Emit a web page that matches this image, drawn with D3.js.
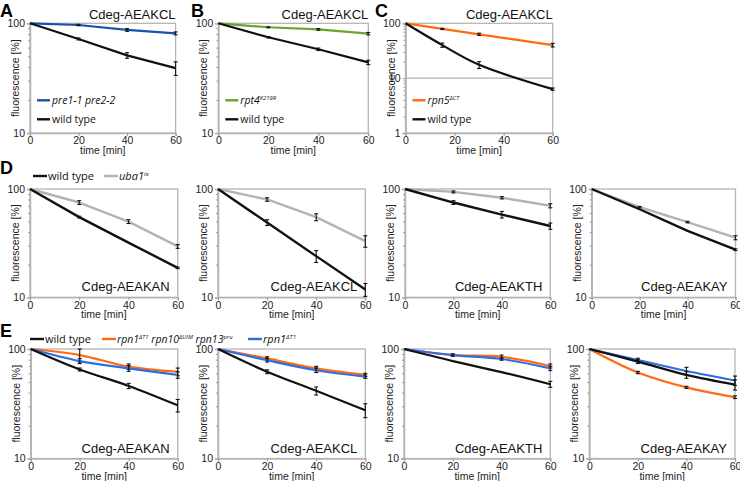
<!DOCTYPE html>
<html><head><meta charset="utf-8">
<script src="https://cdn.jsdelivr.net/npm/d3@7"></script>
<style>body{margin:0;background:#fff}svg{display:block}</style>
</head><body>
<script>
// ---------- DATA ----------
const times = [0, 20, 40, 60];
const timesC = [0, 15, 30, 60];
const xTicks = [0, 20, 40, 60];

const A_pre = [100, 96.5, 87, 81],     A_preErr = [0, 1.5, 2.5, 2.5];
const A_wt  = [100, 72, 51, 39],       A_wtErr  = [0, 1.5, 3, 5.5];
const B_rpt4 = [100, 92, 88, 80.5],    B_rpt4Err = [0, 1, 1.5, 2];
const B_wt   = [100, 74.6, 58, 44],    B_wtErr   = [0, 1, 1.5, 2];
const C_rpn5 = [100, 79, 63, 40],      C_rpn5Err = [0, 2, 3, 3];
const C_wt   = [100, 40, 17.5, 6.3],   C_wtErr   = [0, 3.5, 2.5, 0.3];

const D_titles = ["Cdeg-AEAKAN", "Cdeg-AEAKCL", "Cdeg-AEAKTH", "Cdeg-AEAKAY"];
const D_uba1   = [[100, 75, 50, 29.5], [100, 80, 55, 33], [100, 94, 83, 70], [100, 68, 49.5, 35.5]];
const D_uba1Err= [[0, 3, 2, 1.2], [0, 3, 4, 4], [0, 2, 2, 3], [0, 1, 0.8, 1.5]];
const D_wt     = [[100, 55, 32, 18.7], [100, 49, 24, 11.8], [100, 75, 58, 45.5], [100, 65, 41, 27.5]];
const D_wtErr  = [[0, 1, 0, 0.3], [0, 3, 3, 1.6], [0, 3, 4, 3], [0, 0, 0, 0.5]];

const E_titles = ["Cdeg-AEAKAN", "Cdeg-AEAKCL", "Cdeg-AEAKTH", "Cdeg-AEAKAY"];
const E_wt     = [[100, 65, 46, 30.6], [100, 62, 41.5, 27.6], [100, 77.6, 61.5, 47.7], [100, 76.7, 58, 47.2]];
const E_wtErr  = [[0, 2, 2.5, 4], [0, 2.5, 3.5, 4], [0, 0, 0, 3], [0, 3, 4, 5]];
const E_triple = [[100, 88, 69, 62], [100, 82, 66.5, 58], [100, 88, 85, 70], [100, 61, 44.6, 36.3]];
const E_tripleErr = [[0, 12, 4, 5], [0, 3, 3, 2], [0, 2, 3, 3], [0, 1.5, 1, 1]];
const E_rpn1   = [[100, 77.6, 66.5, 58], [100, 79, 64, 56], [100, 88, 81, 66.5], [100, 79.4, 63, 51.6]];
const E_rpn1Err= [[0, 4, 4, 4], [0, 3, 3, 2], [0, 2, 2, 3], [0, 3, 5, 5]];

// ---------- STYLE ----------
const COL = {black: "#111", blue: "#1b50b0", blue2: "#2b6fe0", green: "#69a52c", orange: "#ff6a13", gray: "#b3b3b3"};
const FONT = "'Liberation Sans', Arial, sans-serif";
const LFONT = "'Open Sans', 'Liberation Sans', sans-serif";

const svg = d3.select("body").append("svg").attr("width", 740).attr("height", 481);

// panel geometry
const rowA = {y0: 23.3, y1: 133};
const rowD = {y0: 189, y1: 297.3};
const rowE = {y0: 349, y1: 458.5};
const colsD = [[30, 177.7], [218, 365.3], [405, 550.3], [591.7, 735.5]];
const colsE = [[30.7, 177.7], [218, 365.3], [404, 550.3], [589.3, 735]];

function supText(sel, parts, size) {
  let raised = false;
  parts.forEach(p => {
    if (typeof p === "string") {
      const t = sel.append("tspan").text(p);
      if (raised) { t.attr("dy", size * 0.38); raised = false; }
    } else {
      sel.append("tspan").attr("font-size", size * 0.56).attr("dy", -size * 0.38).text(p.sup);
      raised = true;
    }
  });
}

function panel(cfg) {
  const g = svg.append("g");
  const x = d3.scaleLinear().domain([0, 60]).range([cfg.x0, cfg.x1]);
  const y = d3.scaleLog().domain(cfg.ydom).range([cfg.y1, cfg.y0]);
  g.append("rect").attr("x", cfg.x0).attr("y", cfg.y0).attr("width", cfg.x1 - cfg.x0).attr("height", cfg.y1 - cfg.y0)
    .attr("fill", "none").attr("stroke", "#b5b5b5").attr("stroke-width", 1.3);
  (cfg.grid || []).forEach(v => g.append("line").attr("x1", cfg.x0).attr("x2", cfg.x1).attr("y1", y(v)).attr("y2", y(v))
    .attr("stroke", "#b5b5b5").attr("stroke-width", 1.3));
  const ya = d3.axisLeft(y).tickValues(cfg.ymajor).tickFormat(d3.format("d")).tickSize(3);
  const yg = g.append("g").attr("transform", `translate(${cfg.x0},0)`).call(ya);
  const minors = [];
  for (let dec = cfg.ydom[0]; dec < cfg.ydom[1]; dec *= 10) for (let k = 2; k <= 9; k++) minors.push(dec * k);
  g.append("g").attr("transform", `translate(${cfg.x0},0)`).call(d3.axisLeft(y).tickValues(minors).tickFormat("").tickSize(2));
  g.append("g").attr("transform", `translate(0,${cfg.y1})`).call(d3.axisBottom(x).tickValues(xTicks).tickSize(3).tickPadding(1));
  g.selectAll(".domain").attr("stroke", "#b5b5b5").attr("stroke-width", 1.3);
  g.selectAll(".tick line").attr("stroke", "#999");
  g.selectAll(".tick text").attr("font-family", FONT).attr("font-size", 10.5).attr("fill", "#222");
  yg.selectAll(".tick text").attr("dx", 1);
  g.append("text").attr("x", (cfg.x0 + cfg.x1) / 2).attr("y", cfg.y1 + 21).attr("text-anchor", "middle")
    .attr("font-family", FONT).attr("font-size", 10.5).attr("fill", "#222").text("time [min]");
  g.append("text").attr("transform", `translate(${cfg.x0 - 11},${(cfg.y0 + cfg.y1) / 2}) rotate(-90)`)
    .attr("text-anchor", "middle").attr("font-family", FONT).attr("font-size", 10.5).attr("fill", "#222").text("fluorescence [%]");
  const curve = cfg.smooth ? d3.curveCatmullRom.alpha(0.5) : d3.curveLinear;
  cfg.series.forEach(s => {
    const tt = s.t || times;
    const pts = s.v.map((v, i) => ({t: tt[i], v, e: s.e[i]}));
    g.append("path").datum(pts).attr("fill", "none").attr("stroke", s.c).attr("stroke-width", s.w || 2.2)
      .attr("stroke-linejoin", "round")
      .attr("d", d3.line().x(d => x(d.t)).y(d => y(d.v)).curve(curve));
    pts.filter(d => d.e > 0).forEach(d => {
      const xx = x(d.t), ya = y(d.v + d.e), yb = y(Math.max(d.v - d.e, cfg.ydom[0]));
      const eb = g.append("g").attr("stroke", "#111").attr("stroke-width", 1.1);
      eb.append("line").attr("x1", xx).attr("x2", xx).attr("y1", ya).attr("y2", yb);
      eb.append("line").attr("x1", xx - 2).attr("x2", xx + 2).attr("y1", ya).attr("y2", ya);
      eb.append("line").attr("x1", xx - 2).attr("x2", xx + 2).attr("y1", yb).attr("y2", yb);
    });
  });
  if (cfg.titleTop) g.append("text").attr("x", cfg.x1).attr("y", cfg.y0 - 4).attr("text-anchor", "end")
    .attr("font-family", FONT).attr("font-size", 13).attr("fill", "#111").text(cfg.title);
  else g.append("text").attr("x", cfg.x1 - 8).attr("y", cfg.y1 - 6).attr("text-anchor", "end")
    .attr("font-family", FONT).attr("font-size", 13).attr("fill", "#111").text(cfg.title);
  (cfg.legend || []).forEach((l, i) => {
    const ly = cfg.y0 + 77 + i * 19;
    g.append("line").attr("x1", cfg.x0 + 7).attr("x2", cfg.x0 + 20).attr("y1", ly).attr("y2", ly).attr("stroke", l.c).attr("stroke-width", 2.4);
    const t = g.append("text").attr("x", cfg.x0 + 22).attr("y", ly + 4).attr("font-family", LFONT).attr("font-size", 10.5)
      .attr("fill", "#111").attr("font-style", l.italic ? "italic" : "normal");
    supText(t, l.parts, 10.5);
  });
  return g;
}

// ---------- ROW A-C ----------
panel({x0: 30, x1: 175.6, y0: rowA.y0, y1: rowA.y1, ydom: [10, 100], ymajor: [10, 100], title: "Cdeg-AEAKCL", titleTop: true,
  series: [{v: A_pre, e: A_preErr, c: COL.blue}, {v: A_wt, e: A_wtErr, c: COL.black}],
  legend: [{c: COL.blue, italic: true, parts: ["pre1-1 pre2-2"]}, {c: COL.black, parts: ["wild type"]}]});
panel({x0: 218.3, x1: 368.3, y0: rowA.y0, y1: rowA.y1, ydom: [10, 100], ymajor: [10, 100], title: "Cdeg-AEAKCL", titleTop: true,
  series: [{v: B_rpt4, e: B_rpt4Err, c: COL.green}, {v: B_wt, e: B_wtErr, c: COL.black}],
  legend: [{c: COL.green, italic: true, parts: ["rpt4", {sup: "K219R"}]}, {c: COL.black, parts: ["wild type"]}]});
panel({x0: 405.5, x1: 552.7, y0: rowA.y0, y1: rowA.y1, ydom: [1, 100], ymajor: [1, 10, 100], grid: [10], title: "Cdeg-AEAKCL", titleTop: true, smooth: true,
  series: [{t: timesC, v: C_rpn5, e: C_rpn5Err, c: COL.orange}, {t: timesC, v: C_wt, e: C_wtErr, c: COL.black}],
  legend: [{c: COL.orange, italic: true, parts: ["rpn5", {sup: "\u0394CT"}]}, {c: COL.black, parts: ["wild type"]}]});

// ---------- ROW D ----------
colsD.forEach((c, i) => panel({x0: c[0], x1: c[1], y0: rowD.y0, y1: rowD.y1, ydom: [10, 100], ymajor: [10, 100], title: D_titles[i],
  series: [{v: D_uba1[i], e: D_uba1Err[i], c: COL.gray, w: 2.4}, {v: D_wt[i], e: D_wtErr[i], c: COL.black, w: 2.4}]}));

// ---------- ROW E ----------
colsE.forEach((c, i) => panel({x0: c[0], x1: c[1], y0: rowE.y0, y1: rowE.y1, ydom: [10, 100], ymajor: [10, 100], title: E_titles[i], smooth: true,
  series: [{v: E_triple[i], e: E_tripleErr[i], c: COL.orange}, {v: E_rpn1[i], e: E_rpn1Err[i], c: COL.blue2}, {v: E_wt[i], e: E_wtErr[i], c: COL.black}]}));

// ---------- TOP LEGENDS ----------
function topLegend(items, ly) {
  items.forEach(l => {
    svg.append("line").attr("x1", l.x).attr("x2", l.x + 14).attr("y1", ly).attr("y2", ly).attr("stroke", l.c).attr("stroke-width", 2.4);
    const t = svg.append("text").attr("x", l.x + 15).attr("y", ly + 4).attr("font-family", LFONT).attr("font-size", 11)
      .attr("fill", "#111").attr("font-style", l.italic ? "italic" : "normal");
    supText(t, l.parts, l.size || 11);
    if (l.size) t.attr("font-size", l.size);
  });
}
topLegend([{x: 33, c: COL.black, parts: ["wild type"]}, {x: 104, c: COL.gray, italic: true, parts: ["uba1", {sup: "ts"}]}], 176);
topLegend([{x: 30, c: COL.black, parts: ["wild type"]},
  {x: 102, c: COL.orange, italic: true, size: 10.5, parts: ["rpn1", {sup: "\u0394T1"}, " rpn10", {sup: "\u0394UIM"}, " rpn13", {sup: "pru"}]},
  {x: 248, c: COL.blue2, italic: true, parts: ["rpn1", {sup: "\u0394T1"}]}], 339);

// ---------- PANEL LETTERS ----------
[["A", 0, 17], ["B", 191, 17], ["C", 375, 17], ["D", 0, 174], ["E", 0, 337]].forEach(([s, lx, ly]) =>
  svg.append("text").attr("x", lx).attr("y", ly).attr("font-family", FONT).attr("font-weight", "bold").attr("font-size", 18).attr("fill", "#000").text(s));
</script>
</body></html>
